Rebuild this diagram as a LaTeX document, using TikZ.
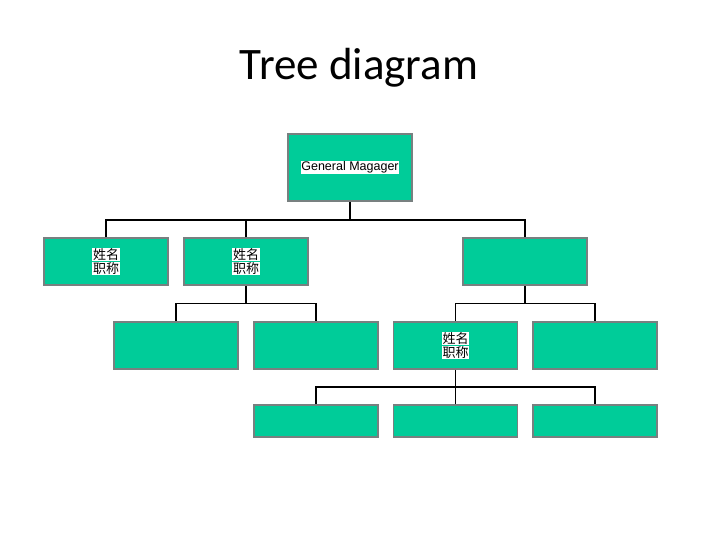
\documentclass[tikz,border=0pt]{standalone}
\usepackage{fontspec}
\setmainfont{Carlito}
\newfontfamily\arialf{Liberation Sans}
\newfontfamily\cjk{Noto Sans CJK SC}
\definecolor{boxfill}{RGB}{0,204,153}
\definecolor{boxline}{RGB}{120,128,128}
\newcommand{\hlw}[1]{{\setlength{\fboxsep}{0.6pt}\colorbox{white}{#1}}}
\tikzset{
  orgbox/.style={rectangle, fill=boxfill, draw=boxline, line width=1.8pt,
    minimum width=124pt, minimum height=47pt, inner sep=0pt, align=center},
  topbox/.style={orgbox, minimum height=67pt},
  lowbox/.style={orgbox, minimum height=32pt},
  conn/.style={draw=black, line width=1.9pt},
  cjktext/.style={font=\cjk\fontsize{13}{15}\selectfont}
}
\begin{document}
\begin{tikzpicture}[x=1pt,y=-1pt]
\useasboundingbox (0,0) rectangle (720,540);
\node (title) at (359,68) {\fontsize{45}{54}\selectfont Tree diagram};
% nodes
\node[topbox, font=\arialf\fontsize{12.5}{15}\selectfont] (gm) at (350,167.5) {\hlw{General Magager}};
\node[orgbox, cjktext] (a1) at (106,261.5) {\hlw{姓名}\\[-1pt]\hlw{职称}};
\node[orgbox, cjktext] (a2) at (246,261.5) {\hlw{姓名}\\[-1pt]\hlw{职称}};
\node[orgbox] (a3) at (525,261.5) {};
\node[orgbox] (b1) at (176,345.5) {};
\node[orgbox] (b2) at (316,345.5) {};
\node[orgbox, cjktext] (b3) at (455.5,345.5) {\hlw{姓名}\\[-1pt]\hlw{职称}};
\node[orgbox] (b4) at (595,345.5) {};
\node[lowbox] (c1) at (316,421) {};
\node[lowbox] (c2) at (455.5,421) {};
\node[lowbox] (c3) at (595,421) {};
% bus levels
\coordinate (y1) at (0,220);
\coordinate (y2) at (0,303.5);
\coordinate (y3) at (0,387);
% connectors
\draw[conn] (gm.south) -- (gm.south |- y1);
\draw[conn] (a1.north) -- (a1.north |- y1) -- (a3.north |- y1) -- (a3.north);
\draw[conn] (a2.north) -- (a2.north |- y1);
\draw[conn] (a2.south) -- (a2.south |- y2);
\draw[conn] (b1.north) -- (b1.north |- y2) -- (b2.north |- y2) -- (b2.north);
\draw[conn] (a3.south) -- (a3.south |- y2);
\draw[conn] (b3.north) -- (b3.north |- y2) -- (b4.north |- y2) -- (b4.north);
\draw[conn] (b3.south) -- (b3.south |- y3);
\draw[conn] (c1.north) -- (c1.north |- y3) -- (c3.north |- y3) -- (c3.north);
\draw[conn] (c2.north) -- (c2.north |- y3);
\end{tikzpicture}
\end{document}
